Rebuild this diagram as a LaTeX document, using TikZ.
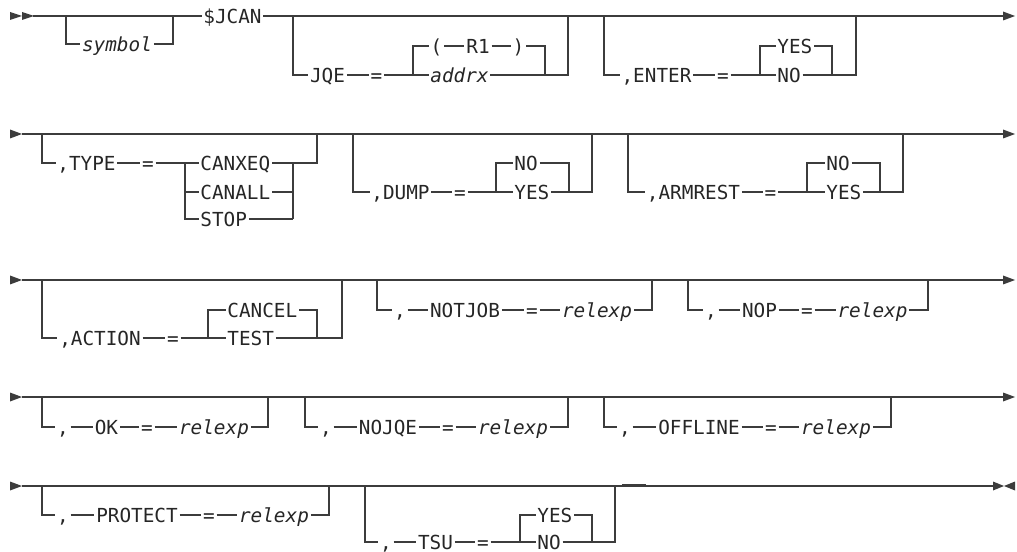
\documentclass[tikz,border=0pt]{standalone}
\usepackage{fontspec}
\newfontfamily\rr{DejaVu Sans Mono}
\definecolor{railc}{HTML}{3C3C3C}
\tikzset{
  rail/.style={draw=railc, line width=1pt},
  kw/.style={font=\rr\fontsize{14.5pt}{16pt}\selectfont, text=black!85, inner xsep=1.2pt, inner ysep=0pt, text height=10.6pt, text depth=0pt},
  var/.style={kw, font=\rr\itshape\fontsize{14.5pt}{16pt}\selectfont},
  tip/.style={fill=railc, draw=none}
}
\begin{document}
\begin{tikzpicture}[x=0.75pt,y=-0.75pt]
\useasboundingbox (0,0) rectangle (1017,552);
% ---------------- Row 1 ----------------
\fill[tip] (10,12) -- (22,16) -- (10,20) -- cycle;
\fill[tip] (22,12) -- (34,16) -- (22,20) -- cycle;
\fill[tip] (1003,11.5) -- (1015,16) -- (1003,20.5) -- cycle;
\coordinate (s1) at (33,16);
\coordinate (e1) at (1003,16);
\node[var] (sym) at (117,44) {symbol};
\node[kw] (jcan) at (232.5,16) {\$JCAN};
\coordinate (a1) at (66,16);
\coordinate (a2) at (173,16);
\draw[rail] (s1) -- (jcan.west);
\draw[rail] (jcan.east) -- (e1);
\draw[rail] (a1) |- (sym.west);
\draw[rail] (sym.east) -| (a2);
% JQE
\node[kw] (jqe) at (327.5,75) {JQE};
\node[kw] (jqeq) at (376.5,75) {=};
\node[kw] (lp) at (436.5,46) {(};
\node[kw] (r1) at (478,46) {R1};
\node[kw] (rp) at (518.5,46) {)};
\node[var] (addrx) at (459.5,75) {addrx};
\coordinate (b1) at (293,16);
\coordinate (b3b) at (413,75);
\coordinate (b4b) at (545,75);
\coordinate (b5b) at (568,75);
\coordinate (b2) at (568,16);
\draw[rail] (b1) |- (jqe.west);
\draw[rail] (jqe.east) -- (jqeq.west);
\draw[rail] (jqeq.east) -- (addrx.west);
\draw[rail] (lp.west) -| (b3b);
\draw[rail] (lp.east) -- (r1.west);
\draw[rail] (r1.east) -- (rp.west);
\draw[rail] (rp.east) -| (b4b);
\draw[rail] (addrx.east) -- (b5b) -- (b2);
% ENTER
\node[kw] (enter) at (656.5,75) {,ENTER};
\node[kw] (enteq) at (723,75) {=};
\node[kw, anchor=west] (yes1) at (775.5,46) {YES};
\node[kw, anchor=west] (no1) at (775.5,75) {NO};
\coordinate (c1) at (604,16);
\coordinate (c3b) at (760,75);
\coordinate (c4b) at (832,75);
\coordinate (c5b) at (856,75);
\coordinate (c2) at (856,16);
\draw[rail] (c1) |- (enter.west);
\draw[rail] (enter.east) -- (enteq.west);
\draw[rail] (enteq.east) -- (no1.west);
\draw[rail] (yes1.west) -| (c3b);
\draw[rail] (yes1.east) -| (c4b);
\draw[rail] (no1.east) -- (c4b) -- (c5b) -- (c2);
% ---------------- Row 2 ----------------
\fill[tip] (10,129.5) -- (22,134) -- (10,138.5) -- cycle;
\fill[tip] (1003,129.5) -- (1015,134) -- (1003,138.5) -- cycle;
\coordinate (s2) at (22,134);
\coordinate (e2) at (1003,134);
\draw[rail] (s2) -- (e2);
% TYPE
\node[kw] (type) at (86.5,163) {,TYPE};
\node[kw] (typeq) at (148,163) {=};
\node[kw, anchor=west] (canxeq) at (198.5,163) {CANXEQ};
\node[kw, anchor=west] (canall) at (198.5,192) {CANALL};
\node[kw, anchor=west] (stop) at (198.5,219) {STOP};
\coordinate (t1) at (42,134);
\coordinate (t3t) at (185,163);
\coordinate (t4t) at (293,163);
\coordinate (t4b) at (293,219);
\coordinate (t5) at (317,163);
\coordinate (t2) at (317,134);
\draw[rail] (t1) |- (type.west);
\draw[rail] (type.east) -- (typeq.west);
\draw[rail] (typeq.east) -- (canxeq.west);
\draw[rail] (stop.west) -| (t3t);
\draw[rail] (canall.west) -- (canall.west -| t3t);
\draw[rail] (canxeq.east) -| (t4b);
\draw[rail] (canall.east) -- (canall.east -| t4t);
\draw[rail] (stop.east) -- (t4b);
\draw[rail] (t4t) -- (t5) -- (t2);
% DUMP
\node[kw] (dump) at (400.5,192) {,DUMP};
\node[kw] (dumpeq) at (460,192) {=};
\node[kw, anchor=west] (no2) at (512.5,163) {NO};
\node[kw, anchor=west] (yes2) at (512.5,192) {YES};
\coordinate (d1) at (353,134);
\coordinate (d3b) at (496,192);
\coordinate (d4b) at (569,192);
\coordinate (d5b) at (592,192);
\coordinate (d2) at (592,134);
\draw[rail] (d1) |- (dump.west);
\draw[rail] (dump.east) -- (dumpeq.west);
\draw[rail] (dumpeq.east) -- (yes2.west);
\draw[rail] (no2.west) -| (d3b);
\draw[rail] (no2.east) -| (d4b);
\draw[rail] (yes2.east) -- (d4b) -- (d5b) -- (d2);
% ARMREST
\node[kw] (armrest) at (693.5,192) {,ARMREST};
\node[kw] (armeq) at (770.5,192) {=};
\node[kw, anchor=west] (no3) at (824.5,163) {NO};
\node[kw, anchor=west] (yes3) at (824.5,192) {YES};
\coordinate (f1) at (628,134);
\coordinate (f3b) at (807,192);
\coordinate (f4b) at (880,192);
\coordinate (f5b) at (903,192);
\coordinate (f2) at (903,134);
\draw[rail] (f1) |- (armrest.west);
\draw[rail] (armrest.east) -- (armeq.west);
\draw[rail] (armeq.east) -- (yes3.west);
\draw[rail] (no3.west) -| (f3b);
\draw[rail] (no3.east) -| (f4b);
\draw[rail] (yes3.east) -- (f4b) -- (f5b) -- (f2);
% ---------------- Row 3 ----------------
\fill[tip] (10,275.5) -- (22,280) -- (10,284.5) -- cycle;
\fill[tip] (1003,275.5) -- (1015,280) -- (1003,284.5) -- cycle;
\coordinate (s3) at (22,280);
\coordinate (e3) at (1003,280);
\draw[rail] (s3) -- (e3);
% ACTION
\node[kw] (action) at (100,338) {,ACTION};
\node[kw] (acteq) at (173,338) {=};
\node[kw, anchor=west] (cancel) at (225.5,310) {CANCEL};
\node[kw, anchor=west] (test) at (225.5,338) {TEST};
\coordinate (g1) at (42,280);
\coordinate (g3b) at (208,338);
\coordinate (g4b) at (317,338);
\coordinate (g5b) at (342,338);
\coordinate (g2) at (342,280);
\draw[rail] (g1) |- (action.west);
\draw[rail] (action.east) -- (acteq.west);
\draw[rail] (acteq.east) -- (test.west);
\draw[rail] (cancel.west) -| (g3b);
\draw[rail] (cancel.east) -| (g4b);
\draw[rail] (test.east) -- (g4b) -- (g5b) -- (g2);
% NOTJOB
\node[kw] (hc) at (400,310) {,};
\node[kw] (notjob) at (465,310) {NOTJOB};
\node[kw] (nteq) at (532,310) {=};
\node[var] (rel1) at (597,310) {relexp};
\coordinate (h1) at (377,280);
\coordinate (h2) at (652,280);
\draw[rail] (h1) |- (hc.west);
\draw[rail] (hc.east) -- (notjob.west);
\draw[rail] (notjob.east) -- (nteq.west);
\draw[rail] (nteq.east) -- (rel1.west);
\draw[rail] (rel1.east) -| (h2);
% NOP
\node[kw] (ic) at (711,310) {,};
\node[kw] (nop) at (759.5,310) {NOP};
\node[kw] (nopeq) at (807,310) {=};
\node[var] (rel2) at (872.5,310) {relexp};
\coordinate (i1) at (688,280);
\coordinate (i2) at (928,280);
\draw[rail] (i1) |- (ic.west);
\draw[rail] (ic.east) -- (nop.west);
\draw[rail] (nop.east) -- (nopeq.west);
\draw[rail] (nopeq.east) -- (rel2.west);
\draw[rail] (rel2.east) -| (i2);
% ---------------- Row 4 ----------------
\fill[tip] (10,392.5) -- (22,397) -- (10,401.5) -- cycle;
\fill[tip] (1003,392.5) -- (1015,397) -- (1003,401.5) -- cycle;
\coordinate (s4) at (22,397);
\coordinate (e4) at (1003,397);
\draw[rail] (s4) -- (e4);
% OK
\node[kw] (jc) at (63,427) {,};
\node[kw] (ok) at (106.5,427) {OK};
\node[kw] (okeq) at (147,427) {=};
\node[var] (rel3) at (214,427) {relexp};
\coordinate (j1) at (42,397);
\coordinate (j2) at (268,397);
\draw[rail] (j1) |- (jc.west);
\draw[rail] (jc.east) -- (ok.west);
\draw[rail] (ok.east) -- (okeq.west);
\draw[rail] (okeq.east) -- (rel3.west);
\draw[rail] (rel3.east) -| (j2);
% NOJQE
\node[kw] (kc) at (326,427) {,};
\node[kw] (nojqe) at (388,427) {NOJQE};
\node[kw] (nojeq) at (448,427) {=};
\node[var] (rel4) at (513,427) {relexp};
\coordinate (k1) at (305,397);
\coordinate (k2) at (568,397);
\draw[rail] (k1) |- (kc.west);
\draw[rail] (kc.east) -- (nojqe.west);
\draw[rail] (nojqe.east) -- (nojeq.west);
\draw[rail] (nojeq.east) -- (rel4.west);
\draw[rail] (rel4.east) -| (k2);
% OFFLINE
\node[kw] (lc) at (625,427) {,};
\node[kw] (offline) at (699,427) {OFFLINE};
\node[kw] (offeq) at (771,427) {=};
\node[var] (rel5) at (836,427) {relexp};
\coordinate (l1) at (604,397);
\coordinate (l2) at (891,397);
\draw[rail] (l1) |- (lc.west);
\draw[rail] (lc.east) -- (offline.west);
\draw[rail] (offline.east) -- (offeq.west);
\draw[rail] (offeq.east) -- (rel5.west);
\draw[rail] (rel5.east) -| (l2);
% ---------------- Row 5 ----------------
\fill[tip] (10,481.5) -- (22,486) -- (10,490.5) -- cycle;
\fill[tip] (993,481.5) -- (1004,486) -- (993,490.5) -- cycle;
\fill[tip] (1015,481.5) -- (1004,486) -- (1015,490.5) -- cycle;
\coordinate (s5) at (22,486);
\coordinate (e5) at (993,486);
\draw[rail] (s5) -- (e5);
% PROTECT
\node[kw] (mc) at (63,515) {,};
\node[kw] (protect) at (137,515) {PROTECT};
\node[kw] (proteq) at (209,515) {=};
\node[var] (rel6) at (274,515) {relexp};
\coordinate (m1) at (42,486);
\coordinate (m2) at (329,486);
\draw[rail] (m1) |- (mc.west);
\draw[rail] (mc.east) -- (protect.west);
\draw[rail] (protect.east) -- (proteq.west);
\draw[rail] (proteq.east) -- (rel6.west);
\draw[rail] (rel6.east) -| (m2);
% TSU
\node[kw] (nc) at (386,542) {,};
\node[kw] (tsu) at (435.5,542) {TSU};
\node[kw] (tsueq) at (483,542) {=};
\node[kw, anchor=west] (yes4) at (535.5,515) {YES};
\node[kw, anchor=west] (no4) at (535.5,542) {NO};
\coordinate (n1) at (365,486);
\coordinate (n3b) at (520,542);
\coordinate (n4b) at (592,542);
\coordinate (n5b) at (615,542);
\coordinate (n2) at (615,486);
\draw[rail] (n1) |- (nc.west);
\draw[rail] (nc.east) -- (tsu.west);
\draw[rail] (tsu.east) -- (tsueq.west);
\draw[rail] (tsueq.east) -- (no4.west);
\draw[rail] (yes4.west) -| (n3b);
\draw[rail] (yes4.east) -| (n4b);
\draw[rail] (no4.east) -- (n4b) -- (n5b) -- (n2);
% small dash right of the TSU group
\coordinate (dsh1) at (622,484.8);
\coordinate (dsh2) at (646,484.8);
\draw[rail, line width=1.2pt] (dsh1) -- (dsh2);
\end{tikzpicture}
\end{document}
